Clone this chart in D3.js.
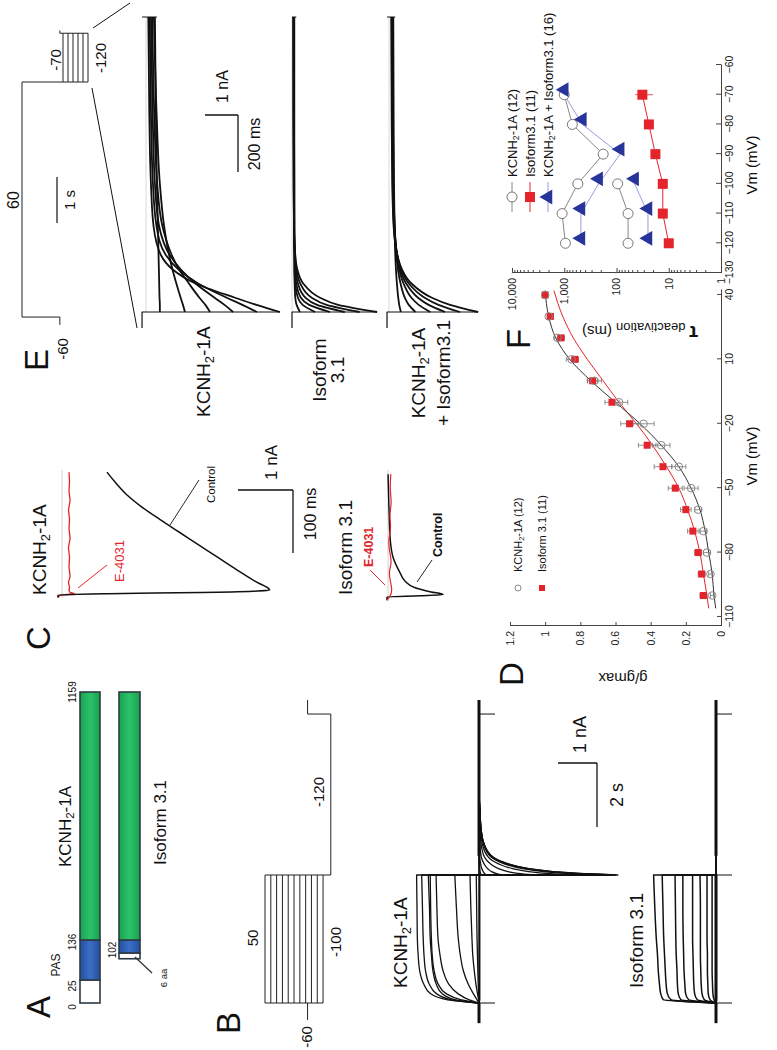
<!DOCTYPE html>
<html><head><meta charset="utf-8">
<script src="https://cdn.jsdelivr.net/npm/d3@7"></script>
<style>body{margin:0;background:#fff}svg{display:block}</style>
</head><body>
<script>
// ================= DATA =================
// Panel A: domain map (residue numbers)
const domainTicks = [0, 25, 136, 1159];
const kcnhSegments = [[0, 25, 'none'], [25, 136, 'pas'], [136, 1159, 'body']];
const isoSegments = [[84, 100, 'none'], [100, 136, 'pas'], [136, 1159, 'body']];

// Panel B: voltage protocol (mV) and times (s)
const bStepMv = [-100, -85, -70, -55, -40, -25, -10, 5, 20, 35, 50];
const bHoldMv = -60, bTailMv = -120;
const bProtoT = [-0.53, 0, 4, 9.03, 9.47];
// Panel B currents (nA)
const bStepT = [0, 0.1, 0.3, 0.6, 1, 1.5, 2, 3, 4];
const bKcnhStep = [
  [0,-0.02,-0.02,-0.02,-0.02,-0.02,-0.02,-0.02,-0.02],
  [0,-0.01,-0.01,-0.01,-0.01,-0.01,-0.01,-0.01,-0.01],
  [0,0,0,0,0,0,0,0,0],
  [0,0,0.01,0.02,0.03,0.04,0.05,0.06,0.07],
  [0,0.01,0.04,0.08,0.12,0.16,0.18,0.21,0.23],
  [0,0.05,0.15,0.28,0.4,0.48,0.53,0.58,0.62],
  [0,0.25,0.55,0.78,0.92,1.0,1.05,1.08,1.1],
  [0,0.45,0.85,1.05,1.15,1.2,1.22,1.24,1.25],
  [0,0.8,1.25,1.42,1.52,1.56,1.58,1.59,1.6],
  [0,0.7,1.1,1.28,1.37,1.41,1.43,1.45,1.47],
  [0,0.6,0.95,1.1,1.18,1.22,1.25,1.27,1.3]
];
const bTailT = [4, 4.05, 4.1, 4.2, 4.35, 4.56, 5.0, 5.6, 7, 9.03];
const bKcnhTail = [
  [0,0,0,0,0,0,0,0,0,0],
  [0,0,0,0,0,0,0,0,0,0],
  [-0.05,-0.04,-0.03,-0.02,-0.01,0,0,0,0,0],
  [-0.2,-0.14,-0.11,-0.07,-0.04,-0.02,-0.01,0,0,0],
  [-0.6,-0.43,-0.33,-0.22,-0.13,-0.06,-0.02,-0.01,0,0],
  [-1.4,-1.0,-0.77,-0.5,-0.29,-0.14,-0.05,-0.02,0,0],
  [-2.4,-1.73,-1.32,-0.86,-0.5,-0.24,-0.08,-0.03,0,0],
  [-3.1,-2.23,-1.7,-1.12,-0.65,-0.31,-0.11,-0.04,0,0],
  [-3.4,-2.45,-1.87,-1.22,-0.71,-0.34,-0.12,-0.04,0,0],
  [-3.5,-2.52,-1.93,-1.26,-0.74,-0.35,-0.12,-0.04,0,0],
  [-3.56,-2.56,-1.96,-1.28,-0.75,-0.36,-0.12,-0.04,0,0]
];
const bIsoStep = [
  [0,-0.02,-0.02,-0.02,-0.02,-0.02,-0.02,-0.02,-0.02],
  [0,0,0,0,0,0,0,0,0],
  [0,0.02,0.02,0.02,0.02,0.02,0.02,0.02,0.02],
  [0,0.05,0.08,0.09,0.1,0.1,0.1,0.1,0.1],
  [0,0.15,0.2,0.21,0.22,0.22,0.23,0.23,0.23],
  [0,0.3,0.36,0.38,0.39,0.4,0.4,0.4,0.41],
  [0,0.48,0.55,0.57,0.58,0.59,0.6,0.6,0.6],
  [0,0.7,0.78,0.8,0.82,0.83,0.84,0.85,0.85],
  [0,0.9,0.97,0.99,1.0,1.02,1.03,1.04,1.05],
  [0,1.15,1.25,1.28,1.3,1.32,1.34,1.36,1.38],
  [0,1.35,1.42,1.45,1.48,1.5,1.53,1.57,1.6]
];

// Panel C (ms, nA)
const cKcnhCtrlT = [-4, 0, 2, 4, 6, 8, 11, 20, 40, 60, 80, 100, 120, 140, 160, 180, 195];
const cKcnhCtrlI = [0, 0, -0.9, -2.6, -3.55, -3.85, -3.82, -3.62, -3.25, -2.9, -2.55, -2.2, -1.85, -1.52, -1.24, -1.03, -0.89];
const cKcnhE4031T = [-4, 0, 2, 4, 7, 12, 20, 30, 45, 60, 75, 90, 105, 120, 135, 150, 165, 180, 195];
const cKcnhE4031I = [0, -0.04, -0.3, -0.22, -0.2, -0.21, -0.19, -0.22, -0.2, -0.21, -0.19, -0.22, -0.2, -0.21, -0.19, -0.22, -0.2, -0.21, -0.2];
const cIsoCtrlT = [-5, 0, 2, 4, 8, 15, 25, 38, 63, 90, 130, 195];
const cIsoCtrlI = [0, 0, -0.6, -1.02, -0.8, -0.5, -0.33, -0.24, -0.11, -0.06, -0.04, -0.02];
const cIsoE4031T = [-5, 0, 10, 25, 40, 55, 70, 90, 110, 130, 150, 170, 195];
const cIsoE4031I = [0, -0.05, -0.1, -0.06, -0.03, -0.09, -0.05, -0.02, -0.08, -0.04, -0.09, -0.05, -0.07];

// Panel E protocol
const eTestMv = [-70, -80, -90, -100, -110, -120];
const eHoldMv = -60, ePreMv = 60;
const eProtoT = [-5.28, -5.11, 0, 1.06, 1.12];
// Panel E currents (ms, nA)
const eT = [0, 25, 50, 100, 150, 200, 300, 450, 700, 1035];
const ePreI = [0.12, 0, 0.06];   // level before the test step (KCNH2, isoform, co-expression)
const eKcnh = [
  [-0.42,-0.42,-0.41,-0.4,-0.39,-0.38,-0.36,-0.33,-0.3,-0.27],
  [-1.18,-1.12,-1.05,-0.92,-0.8,-0.7,-0.55,-0.42,-0.32,-0.24],
  [-1.94,-1.8,-1.62,-1.3,-1.0,-0.78,-0.5,-0.34,-0.25,-0.19],
  [-2.64,-2.38,-2.08,-1.5,-1.05,-0.72,-0.4,-0.27,-0.2,-0.15],
  [-3.36,-2.92,-2.45,-1.58,-0.98,-0.6,-0.32,-0.21,-0.15,-0.11],
  [-4.06,-3.35,-2.7,-1.5,-0.8,-0.45,-0.23,-0.15,-0.1,-0.07]
];
const eIso = [
  [-0.24,-0.14,-0.1,-0.08,-0.07,-0.07,-0.07,-0.07,-0.07,-0.07],
  [-0.7,-0.32,-0.18,-0.1,-0.08,-0.08,-0.07,-0.07,-0.06,-0.06],
  [-1.15,-0.52,-0.27,-0.13,-0.09,-0.08,-0.07,-0.06,-0.06,-0.06],
  [-1.6,-0.76,-0.41,-0.18,-0.11,-0.08,-0.06,-0.06,-0.05,-0.05],
  [-2.05,-1.05,-0.6,-0.25,-0.13,-0.09,-0.06,-0.05,-0.05,-0.04],
  [-2.58,-1.4,-0.85,-0.34,-0.16,-0.1,-0.06,-0.05,-0.04,-0.04]
];
const eCo = [
  [-0.36,-0.31,-0.28,-0.24,-0.21,-0.19,-0.17,-0.15,-0.14,-0.13],
  [-0.8,-0.6,-0.48,-0.35,-0.27,-0.22,-0.17,-0.14,-0.12,-0.11],
  [-1.25,-0.9,-0.68,-0.44,-0.31,-0.24,-0.17,-0.13,-0.11,-0.1],
  [-1.7,-1.2,-0.88,-0.52,-0.34,-0.25,-0.16,-0.12,-0.1,-0.09],
  [-2.15,-1.5,-1.08,-0.6,-0.37,-0.25,-0.15,-0.11,-0.09,-0.08],
  [-2.7,-1.85,-1.3,-0.68,-0.39,-0.25,-0.14,-0.1,-0.08,-0.07]
];

// Panel D: g/gmax vs Vm
const dVm = [-100, -90, -80, -70, -60, -50, -40, -30, -20, -10, 0, 10, 20, 30, 40];
const dKcnh = [0.05, 0.06, 0.08, 0.1, 0.13, 0.17, 0.24, 0.34, 0.44, 0.58, 0.72, 0.85, 0.93, 0.98, 1.0];
const dKcnhErr = [0.01, 0.01, 0.02, 0.02, 0.02, 0.04, 0.04, 0.05, 0.06, 0.05, 0.04, 0.03, 0.02, 0.01, 0.01];
const dIso = [0.1, 0.11, 0.13, 0.16, 0.2, 0.26, 0.33, 0.42, 0.52, 0.62, 0.73, 0.83, 0.91, 0.97, 1.0];
const dIsoErr = [0.02, 0.02, 0.02, 0.03, 0.03, 0.04, 0.05, 0.05, 0.05, 0.04, 0.03, 0.02, 0.02, 0.01, 0.01];
const dFitVm = [-106, -100, -90, -80, -70, -60, -50, -40, -30, -20, -10, 0, 10, 20, 30, 42];
const dKcnhFit = [0.03, 0.04, 0.05, 0.07, 0.09, 0.12, 0.17, 0.24, 0.34, 0.46, 0.6, 0.74, 0.86, 0.94, 0.98, 1.0];
const dIsoFit = [0.07, 0.08, 0.1, 0.12, 0.15, 0.19, 0.24, 0.31, 0.39, 0.48, 0.58, 0.67, 0.76, 0.84, 0.9, 0.95];
const dXTicks = [-110, -80, -50, -20, 10, 40];
const dYTicks = [0, 0.2, 0.4, 0.6, 0.8, 1, 1.2];

// Panel F: tau deactivation (ms) vs Vm
const fVm = [-120, -110, -100, -90, -80, -70];
const fKcnhSlow = [950, 1100, 550, 180, 700, 1000];
const fKcnhFast = [60, 60, 95, 0, 0, 0];
const fIso = [10, 13, 13, 18, 24, 32];
const fIsoErr = [2, 2, 2, 3, 4, 12];
const fCoSlow = [480, 480, 220, 85, 450, 1000];
const fCoFast = [25, 25, 45, 0, 0, 0];
const fXTicks = [-130, -120, -110, -100, -90, -80, -70, -60];
const fYTicks = [1, 10, 100, 1000, 10000];

// ================= DRAWING =================
const FONT = "'Liberation Sans', Arial, Helvetica, sans-serif";
const svg = d3.select('body').append('svg').attr('width', 777).attr('height', 1050);
svg.append('rect').attr('width', 777).attr('height', 1050).attr('fill', '#fff');
// landscape frame 1050 x 777, rotated to portrait page
const L = svg.append('g').attr('transform', 'translate(0,1050) rotate(-90)')
  .attr('font-family', FONT);

function txt(g, x, y, s, o = {}) {
  const t = g.append('text').attr('x', x).attr('y', y)
    .attr('font-size', o.size || 14).attr('fill', o.fill || '#111')
    .attr('text-anchor', o.anchor || 'start');
  if (o.weight) t.attr('font-weight', o.weight);
  t.text(s);
  return t;
}
function kcnh(g, x, y, size, o = {}) {
  const t = g.append('text').attr('x', x).attr('y', y).attr('font-size', size)
    .attr('fill', o.fill || '#111').attr('text-anchor', o.anchor || 'start');
  t.append('tspan').text('KCNH');
  t.append('tspan').attr('font-size', size * 0.68).attr('dy', size * 0.2).text('2');
  t.append('tspan').attr('dy', -size * 0.2).text(o.suffix || '-1A');
  return t;
}
function line(g, x1, y1, x2, y2, c = '#111', w = 1) {
  return g.append('line').attr('x1', x1).attr('y1', y1).attr('x2', x2).attr('y2', y2)
    .attr('stroke', c).attr('stroke-width', w);
}
const mono = (xs, ys) => d3.line().x(d => xs(d[0])).y(d => ys(d[1])).curve(d3.curveMonotoneX);
const lin = (xs, ys) => d3.line().x(d => xs(d[0])).y(d => ys(d[1]));
function zip(a, b) { return a.map((v, i) => [v, b[i]]); }
function joinPaths(parts) { return parts.map((p, i) => i ? p.replace(/^M/, 'L') : p).join(''); }

// ---------- Panel letters ----------
[['A', 43, 50], ['B', 27, 240], ['C', 412, 50], ['D', 376, 523], ['E', 690, 48], ['F', 711, 530]]
  .forEach(([s, x, y]) => txt(L, x, y, s, { size: 33, anchor: 'middle' }));

// ---------- Panel A ----------
const defs = svg.append('defs');
function grad(id, c1, c2) {
  const g = defs.append('linearGradient').attr('id', id).attr('x1', 0).attr('x2', 0).attr('y1', 0).attr('y2', 1);
  g.append('stop').attr('offset', '0%').attr('stop-color', c1);
  g.append('stop').attr('offset', '50%').attr('stop-color', c2);
  g.append('stop').attr('offset', '100%').attr('stop-color', c1);
}
grad('gBody', '#18a24f', '#2cc26a');
grad('gPas', '#2450a2', '#3a6fc4');
const fillFor = { none: '#ffffff', pas: 'url(#gPas)', body: 'url(#gBody)' };
const aa = d3.scaleLinear().domain(domainTicks).range([47, 70, 110, 358]);
function drawProtein(segs, y0, h) {
  segs.forEach(([a, b, k]) => {
    L.append('rect').attr('x', aa(a)).attr('y', y0).attr('width', aa(b) - aa(a)).attr('height', h)
      .attr('fill', fillFor[k]).attr('stroke', '#2e3a44').attr('stroke-width', 1.6);
  });
}
drawProtein(kcnhSegments, 80, 20);
drawProtein(isoSegments, 119, 21);
const aaLabelDx = [-4, -6, -2, 0];
domainTicks.forEach((v, i) => txt(L, aa(v) + aaLabelDx[i], 76, String(v), { size: 10, anchor: 'middle' }));
txt(L, 100, 116, '102', { size: 10, anchor: 'middle' });
txt(L, 85, 60, 'PAS', { size: 12, anchor: 'middle' });
kcnh(L, 183, 71, 17);
txt(L, 185, 166, 'Isoform 3.1', { size: 17 });
line(L, 93, 135, 77, 152, '#2e3a44', 1.4);
txt(L, 72, 167, '6 aa', { size: 9.5, anchor: 'middle' });

// ---------- Panel B protocol ----------
const tB = d3.scaleLinear().domain([0, 1]).range([47, 79]);
const vB = d3.scaleLinear().domain([-120, 50]).range([330.8, 265]);
{
  const g = L.append('g').attr('stroke', '#222').attr('stroke-width', 1).attr('fill', 'none');
  const lp = lin(tB, vB);
  bStepMv.forEach(v => g.append('path').attr('d', lp([[bProtoT[1], v], [bProtoT[2], v]])));
  g.append('path').attr('d', lp([[bProtoT[0], bHoldMv], [bProtoT[1], bHoldMv]]));
  g.append('path').attr('d', lp([[bProtoT[1], d3.min(bStepMv)], [bProtoT[1], d3.max(bStepMv)]]));
  g.append('path').attr('d', lp([[bProtoT[2], d3.max(bStepMv)], [bProtoT[2], bTailMv], [bProtoT[3], bTailMv],
    [bProtoT[3], bHoldMv], [bProtoT[4], bHoldMv]]));
  txt(L, 13, 312, '-60', { size: 15, anchor: 'middle' });
  txt(L, 112, 258, '50', { size: 15, anchor: 'middle' });
  txt(L, 108, 341, '-100', { size: 15, anchor: 'middle' });
  txt(L, 258, 324, '-120', { size: 15, anchor: 'middle' });
}

// ---------- Panel B traces ----------
function drawBTraces(stepArr, tailArr, zeroY) {
  const iS = d3.scaleLinear().domain([0, 1]).range([zeroY, zeroY - 39]);
  const g = L.append('g').attr('fill', 'none').attr('stroke', '#111').attr('stroke-linejoin', 'round');
  g.append('path').attr('d', lin(tB, iS)([[-0.63, 0], [0, 0]])).attr('stroke-width', 3);
  g.append('path').attr('d', lin(tB, iS)([[4.6, 0], [9.47, 0]])).attr('stroke-width', 3);
  stepArr.forEach((s, k) => {
    const p1 = mono(tB, iS)(zip(bStepT, s));
    const p2 = tailArr ? mono(tB, iS)(zip(bTailT, tailArr[k])) : lin(tB, iS)([[4, 0], [9.03, 0]]);
    g.append('path').attr('d', joinPaths([p1, p2])).attr('stroke-width', tailArr ? 1.3 : 1.5);
  });
  [0, 4, 9.03].forEach(t => line(L, tB(t), zeroY, tB(t), zeroY + 16, '#111', 1));
}
drawBTraces(bKcnhStep, bKcnhTail, 479);
drawBTraces(bIsoStep, null, 716);
kcnh(L, 62, 407, 19);
txt(L, 62, 643, 'Isoform 3.1', { size: 19 });
line(L, 223, 597, 287, 597, '#111', 1.3);
line(L, 287, 558, 287, 597, '#111', 1.3);
txt(L, 297, 586, '1 nA', { size: 18 });
txt(L, 255, 623, '2 s', { size: 18, anchor: 'middle' });

// ---------- Panel C ----------
const tC = d3.scaleLinear().domain([0, 100]).range([455, 518]);
{
  const iK = d3.scaleLinear().domain([0, 1]).range([58, 3]);
  const iI = d3.scaleLinear().domain([0, 1]).range([387, 332]);
  line(L, 452, 62, 580, 62, '#c8c8c8', 0.8);
  line(L, 449, 388, 580, 388, '#c8c8c8', 0.8);
  L.append('path').attr('d', lin(tC, iK)(zip(cKcnhE4031T, cKcnhE4031I))).attr('fill', 'none').attr('stroke', '#e3242b').attr('stroke-width', 1.3);
  L.append('path').attr('d', mono(tC, iK)(zip(cKcnhCtrlT, cKcnhCtrlI))).attr('fill', 'none').attr('stroke', '#111').attr('stroke-width', 1.5);
  const tCi = d3.scaleLinear().domain([0, 100]).range([453, 516]);
  L.append('path').attr('d', mono(tCi, iI)(zip(cIsoCtrlT, cIsoCtrlI))).attr('fill', 'none').attr('stroke', '#111').attr('stroke-width', 1.5);
  L.append('path').attr('d', d3.line().x(d => tCi(d[0])).y(d => iI(d[1])).curve(d3.curveBasis)(zip(cIsoE4031T, cIsoE4031I)))
    .attr('fill', 'none').attr('stroke', '#e3242b').attr('stroke-width', 1.2);
  kcnh(L, 455, 46, 19);
  txt(L, 468, 124, 'E-4031', { size: 13, fill: '#e3242b' });
  line(L, 462, 78, 485, 107, '#e3242b', 1);
  txt(L, 547, 215, 'Control', { size: 11.5 });
  line(L, 525, 170, 570, 199, '#111', 0.9);
  txt(L, 455, 352, 'Isoform 3.1', { size: 19 });
  txt(L, 483, 373, 'E-4031', { size: 12.5, fill: '#e3242b', weight: 'bold' });
  line(L, 465, 385, 480, 370, '#e3242b', 1);
  txt(L, 493, 442, 'Control', { size: 12.5, weight: 'bold' });
  line(L, 468, 417, 490, 432, '#111', 0.9);
  line(L, 497, 293, 560, 293, '#111', 1.3);
  line(L, 560, 238, 560, 293, '#111', 1.3);
  txt(L, 570, 277, '1 nA', { size: 17 });
  txt(L, 536, 316, '100 ms', { size: 16, anchor: 'middle' });
}

// ---------- Panel D ----------
{
  const x = d3.scaleLinear().domain([-114.2, 42.3]).range([424, 760]);
  const y = d3.scaleLinear().domain([0, 1.2]).range([721, 510]);
  const g = L.append('g');
  const ax = g.append('g').attr('transform', 'translate(424,0)')
    .call(d3.axisLeft(y).tickValues(dYTicks).tickFormat(d3.format('')).tickSizeInner(-4).tickSizeOuter(0).tickPadding(5));
  const bx = g.append('g').attr('transform', 'translate(0,721)')
    .call(d3.axisBottom(x).tickValues(dXTicks).tickFormat(d3.format('')).tickSizeInner(-4).tickSizeOuter(0).tickPadding(5));
  [ax, bx].forEach(a => { a.selectAll('path,line').attr('stroke', '#444'); a.selectAll('text').attr('font-size', 10.5).attr('font-family', FONT).attr('fill', '#222'); });
  g.append('path').attr('d', mono(x, y)(zip(dFitVm, dIsoFit))).attr('fill', 'none').attr('stroke', '#e3242b').attr('stroke-width', 1);
  g.append('path').attr('d', mono(x, y)(zip(dFitVm, dKcnhFit))).attr('fill', 'none').attr('stroke', '#333').attr('stroke-width', 1);
  function ebar(xv, v, e) {
    line(g, x(xv), y(v - e), x(xv), y(v + e), '#777', 0.8);
    line(g, x(xv) - 2.5, y(v + e), x(xv) + 2.5, y(v + e), '#777', 0.8);
    line(g, x(xv) - 2.5, y(v - e), x(xv) + 2.5, y(v - e), '#777', 0.8);
  }
  dVm.forEach((v, i) => { ebar(v, dKcnh[i], dKcnhErr[i]); ebar(v, dIso[i], dIsoErr[i]); });
  g.selectAll('.dsq').data(dVm).join('rect').attr('x', d => x(d) - 3.5).attr('y', (d, i) => y(dIso[i]) - 3.5)
    .attr('width', 7).attr('height', 7).attr('fill', '#e3242b');
  g.selectAll('.dci').data(dVm).join('circle').attr('cx', d => x(d)).attr('cy', (d, i) => y(dKcnh[i])).attr('r', 3.8)
    .attr('fill', 'none').attr('stroke', '#888').attr('stroke-width', 1);
  txt(L, 0, 0, 'g/gmax', { size: 15, anchor: 'middle' }).attr('transform', 'translate(377,623) rotate(-90)');
  txt(L, 594, 757, 'Vm (mV)', { size: 15, anchor: 'middle' });
  g.append('circle').attr('cx', 462).attr('cy', 518).attr('r', 3).attr('fill', 'none').attr('stroke', '#888');
  g.append('rect').attr('x', 459).attr('y', 539).attr('width', 6).attr('height', 6).attr('fill', '#e3242b');
  kcnh(L, 478, 522, 11).select('tspan:last-child').text('-1A (12)');
  txt(L, 478, 546, 'Isoform 3.1 (11)', { size: 11 });
}

// ---------- Panel E ----------
{
  const tEp = d3.scaleLinear().domain([0, 1]).range([968, 1014]);
  const vE = d3.scaleLinear().domain([-120, -70, 60]).range([88, 63, 22]);
  const lp = lin(tEp, vE);
  const g = L.append('g').attr('fill', 'none').attr('stroke', '#222').attr('stroke-width', 1);
  g.append('path').attr('d', lp([[eProtoT[0], eHoldMv], [eProtoT[1], eHoldMv], [eProtoT[1], ePreMv], [eProtoT[2], ePreMv], [eProtoT[2], d3.min(eTestMv)]]));
  eTestMv.forEach(v => g.append('path').attr('d', lp([[eProtoT[2], v], [eProtoT[3], v]])));
  g.append('path').attr('d', lp([[eProtoT[3], d3.min(eTestMv)], [eProtoT[3], eHoldMv], [eProtoT[4], eHoldMv]]));
  txt(L, 701, 68, '-60', { size: 15, anchor: 'middle' });
  txt(L, 850, 19, '60', { size: 16, anchor: 'middle' });
  txt(L, 990, 61, '-70', { size: 15, anchor: 'middle' });
  txt(L, 992, 106, '-120', { size: 15, anchor: 'middle' });
  line(L, 827, 57, 873, 57, '#111', 1.2);
  txt(L, 850, 75, '1 s', { size: 15, anchor: 'middle' });
  line(L, 1022, 93, 1047, 130, '#111', 1);
  line(L, 962, 92, 722, 137, '#111', 1);

  const tE = d3.scaleLinear().domain([0, 200]).range([738, 795]);
  function panel(arr, zeroY, pre) {
    const iS = d3.scaleLinear().domain([0, 1]).range([zeroY, zeroY - 33]);
    const gg = L.append('g').attr('fill', 'none').attr('stroke', '#111').attr('stroke-linejoin', 'round');
    line(gg, tE(0), zeroY, tE(1035), zeroY, '#c8c8c8', 0.7);
    gg.append('path').attr('d', lin(tE, iS)([[-56, pre], [0, pre], [0, d3.min(arr.map(a => a[0]))]])).attr('stroke-width', 1.2);
    arr.forEach(a => gg.append('path').attr('d', mono(tE, iS)(zip(eT, a))).attr('stroke-width', 1.8));
    line(gg, tE(1035), iS(pre), tE(1035), iS(d3.min(arr.map(a => a[9]))) + 2, '#111', 1);
  }
  panel(eKcnh, 146, ePreI[0]);
  panel(eIso, 292, ePreI[1]);
  panel(eCo, 389, ePreI[2]);
  kcnh(L, 633, 210, 19);
  txt(L, 680, 326, 'Isoform', { size: 19, anchor: 'middle' });
  txt(L, 680, 344, '3.1', { size: 19, anchor: 'middle' });
  kcnh(L, 677, 425, 19, { anchor: 'middle' });
  txt(L, 677, 450, '+ Isoform3.1', { size: 19, anchor: 'middle' });
  line(L, 878, 238, 935, 238, '#111', 1.3);
  line(L, 935, 205, 935, 238, '#111', 1.3);
  txt(L, 947, 228, '1 nA', { size: 16 });
  txt(L, 906, 260, '200 ms', { size: 16, anchor: 'middle' });
}

// ---------- Panel F ----------
{
  const x = d3.scaleLinear().domain([-130, -60]).range([777, 985]);
  const y = d3.scaleLog().domain([1, 10000]).range([721, 512]);
  const g = L.append('g');
  const fmt = d => d3.format(',')(d);
  g.append('g').attr('transform', 'translate(777,0)')
    .call(d3.axisLeft(y).tickValues(fYTicks).tickFormat(fmt).tickSizeInner(-5).tickSizeOuter(0).tickPadding(5));
  const minor = [];
  fYTicks.slice(0, -1).forEach(d => { for (let k = 2; k < 10; k++) minor.push(d * k); });
  g.append('g').attr('transform', 'translate(777,0)').call(d3.axisLeft(y).tickValues(minor).tickFormat('').tickSizeInner(-3).tickSizeOuter(0))
    .select('.domain').remove();
  g.append('g').attr('transform', 'translate(0,721)')
    .call(d3.axisBottom(x).tickValues(fXTicks).tickFormat(d3.format('')).tickSizeInner(-5).tickSizeOuter(0).tickPadding(5));
  g.selectAll('.tick line,.domain').attr('stroke', '#444');
  g.selectAll('text').attr('font-size', 10.5).attr('font-family', FONT).attr('fill', '#222');
  const valid = (arr) => fVm.map((v, i) => [v, arr[i]]).filter(d => d[1] > 0);
  const lp = lin(x, y);
  [[fKcnhSlow, '#888'], [fKcnhFast, '#888'], [fIso, '#e3242b'], [fCoSlow, '#9b9bd6'], [fCoFast, '#9b9bd6']]
    .forEach(([arr, c]) => g.append('path').attr('d', lp(valid(arr))).attr('fill', 'none').attr('stroke', c).attr('stroke-width', 1));
  fVm.forEach((v, i) => {
    line(g, x(v), y(fIso[i] - fIsoErr[i]), x(v), y(fIso[i] + fIsoErr[i]), '#e3242b', 0.8);
  });
  [fKcnhSlow, fKcnhFast].forEach(arr => valid(arr).forEach(d => {
    line(g, x(d[0]), y(d[1] * 0.8), x(d[0]), y(d[1] * 1.25), '#888', 0.8);
    g.append('circle').attr('cx', x(d[0])).attr('cy', y(d[1])).attr('r', 5).attr('fill', '#fff').attr('stroke', '#777');
  }));
  valid(fIso).forEach(d => g.append('rect').attr('x', x(d[0]) - 5).attr('y', y(d[1]) - 5).attr('width', 10).attr('height', 10).attr('fill', '#e3242b'));
  const tri = d3.symbol().type(d3.symbolTriangle).size(95);
  [fCoSlow, fCoFast].forEach(arr => valid(arr).forEach(d =>
    g.append('path').attr('d', tri()).attr('transform', `translate(${x(d[0]) + 5},${y(d[1])})`).attr('fill', '#27349a')));
  const ly = [512, 530, 548];
  line(g, 838, ly[0], 868, ly[0], '#888', 1);
  g.append('circle').attr('cx', 853).attr('cy', ly[0]).attr('r', 5).attr('fill', '#fff').attr('stroke', '#777');
  line(g, 838, ly[1], 868, ly[1], '#e3242b', 1);
  g.append('rect').attr('x', 848).attr('y', ly[1] - 5).attr('width', 10).attr('height', 10).attr('fill', '#e3242b');
  line(g, 838, ly[2], 868, ly[2], '#9b9bd6', 1);
  g.append('path').attr('d', tri()).attr('transform', `translate(853,${ly[2]})`).attr('fill', '#27349a');
  kcnh(L, 873, ly[0] + 4.5, 13).select('tspan:last-child').text('-1A (12)');
  txt(L, 873, ly[1] + 4.5, 'Isoform3.1 (11)', { size: 13 });
  kcnh(L, 873, ly[2] + 4.5, 13).select('tspan:last-child').text('-1A + Isoform3.1 (16)');
  txt(L, 885, 757, 'Vm (mV)', { size: 15, anchor: 'middle' });
  const yl = L.append('text').attr('transform', 'translate(724,640) rotate(-90)').attr('text-anchor', 'middle').attr('fill', '#111');
  yl.append('tspan').attr('font-size', 20).attr('font-weight', 'bold').text('τ');
  yl.append('tspan').attr('font-size', 13).attr('dy', 3).text(' deactivation');
  yl.append('tspan').attr('font-size', 15).attr('dy', -3).text('  (ms)');
}
</script>
</body></html>
